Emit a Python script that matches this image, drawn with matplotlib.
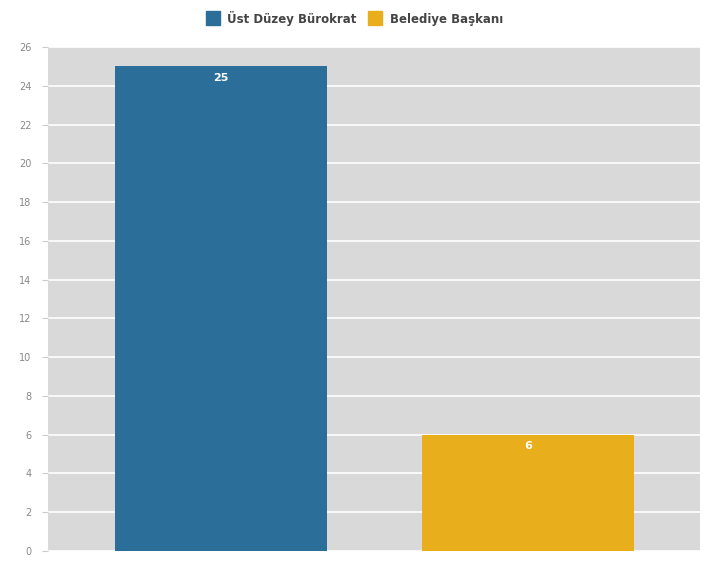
import matplotlib
matplotlib.use("Agg")
import matplotlib.pyplot as plt
from matplotlib.patches import FancyBboxPatch
from matplotlib.lines import Line2D

series = ["Üst Düzey Bürokrat", "Belediye Başkanı"]
values = [25, 6]
colors = ["#2a6e99", "#e9ae1b"]
yticks = list(range(0, 27, 2))

fig = plt.figure(figsize=(7.04, 5.63), dpi=100)
ax = fig.add_axes([48/704, 1-551/563, 652/704, 504/563])
ax.set_facecolor("#d9d9d9")
x = [0, 1]
w = 0.69
bars = ax.bar(x, values, width=w, color=colors, zorder=3)
ax.set_xlim(-0.563, 1.56)
ax.set_ylim(0, 26)
ax.set_yticks(yticks)
ax.set_yticklabels([str(t) for t in yticks], fontsize=7, color="#888888")
ax.tick_params(axis="y", length=4, color="#cccccc", pad=8)
ax.set_xticks([])
ax.grid(axis="y", color="white", linewidth=1.2, zorder=1)
for s in ax.spines.values():
    s.set_visible(False)

for b, v in zip(bars, values):
    ax.annotate(str(v), (b.get_x()+b.get_width()/2, v), xytext=(0, -12),
                textcoords="offset points", ha="center", va="bottom",
                fontsize=8, fontweight="bold", color="white", zorder=4)

handles = [Line2D([0], [0], marker="s", linestyle="none", markersize=10,
                  markerfacecolor=c, markeredgecolor=c) for c in colors]
fig.legend(handles, series, loc="upper center", bbox_to_anchor=(0.5, 1.0),
           ncol=2, frameon=False, fontsize=8.5, handletextpad=0.2,
           columnspacing=0.6, labelcolor="#444444",
           prop={"weight": "bold", "size": 8.5})

fig.savefig("out.png", dpi=100)
